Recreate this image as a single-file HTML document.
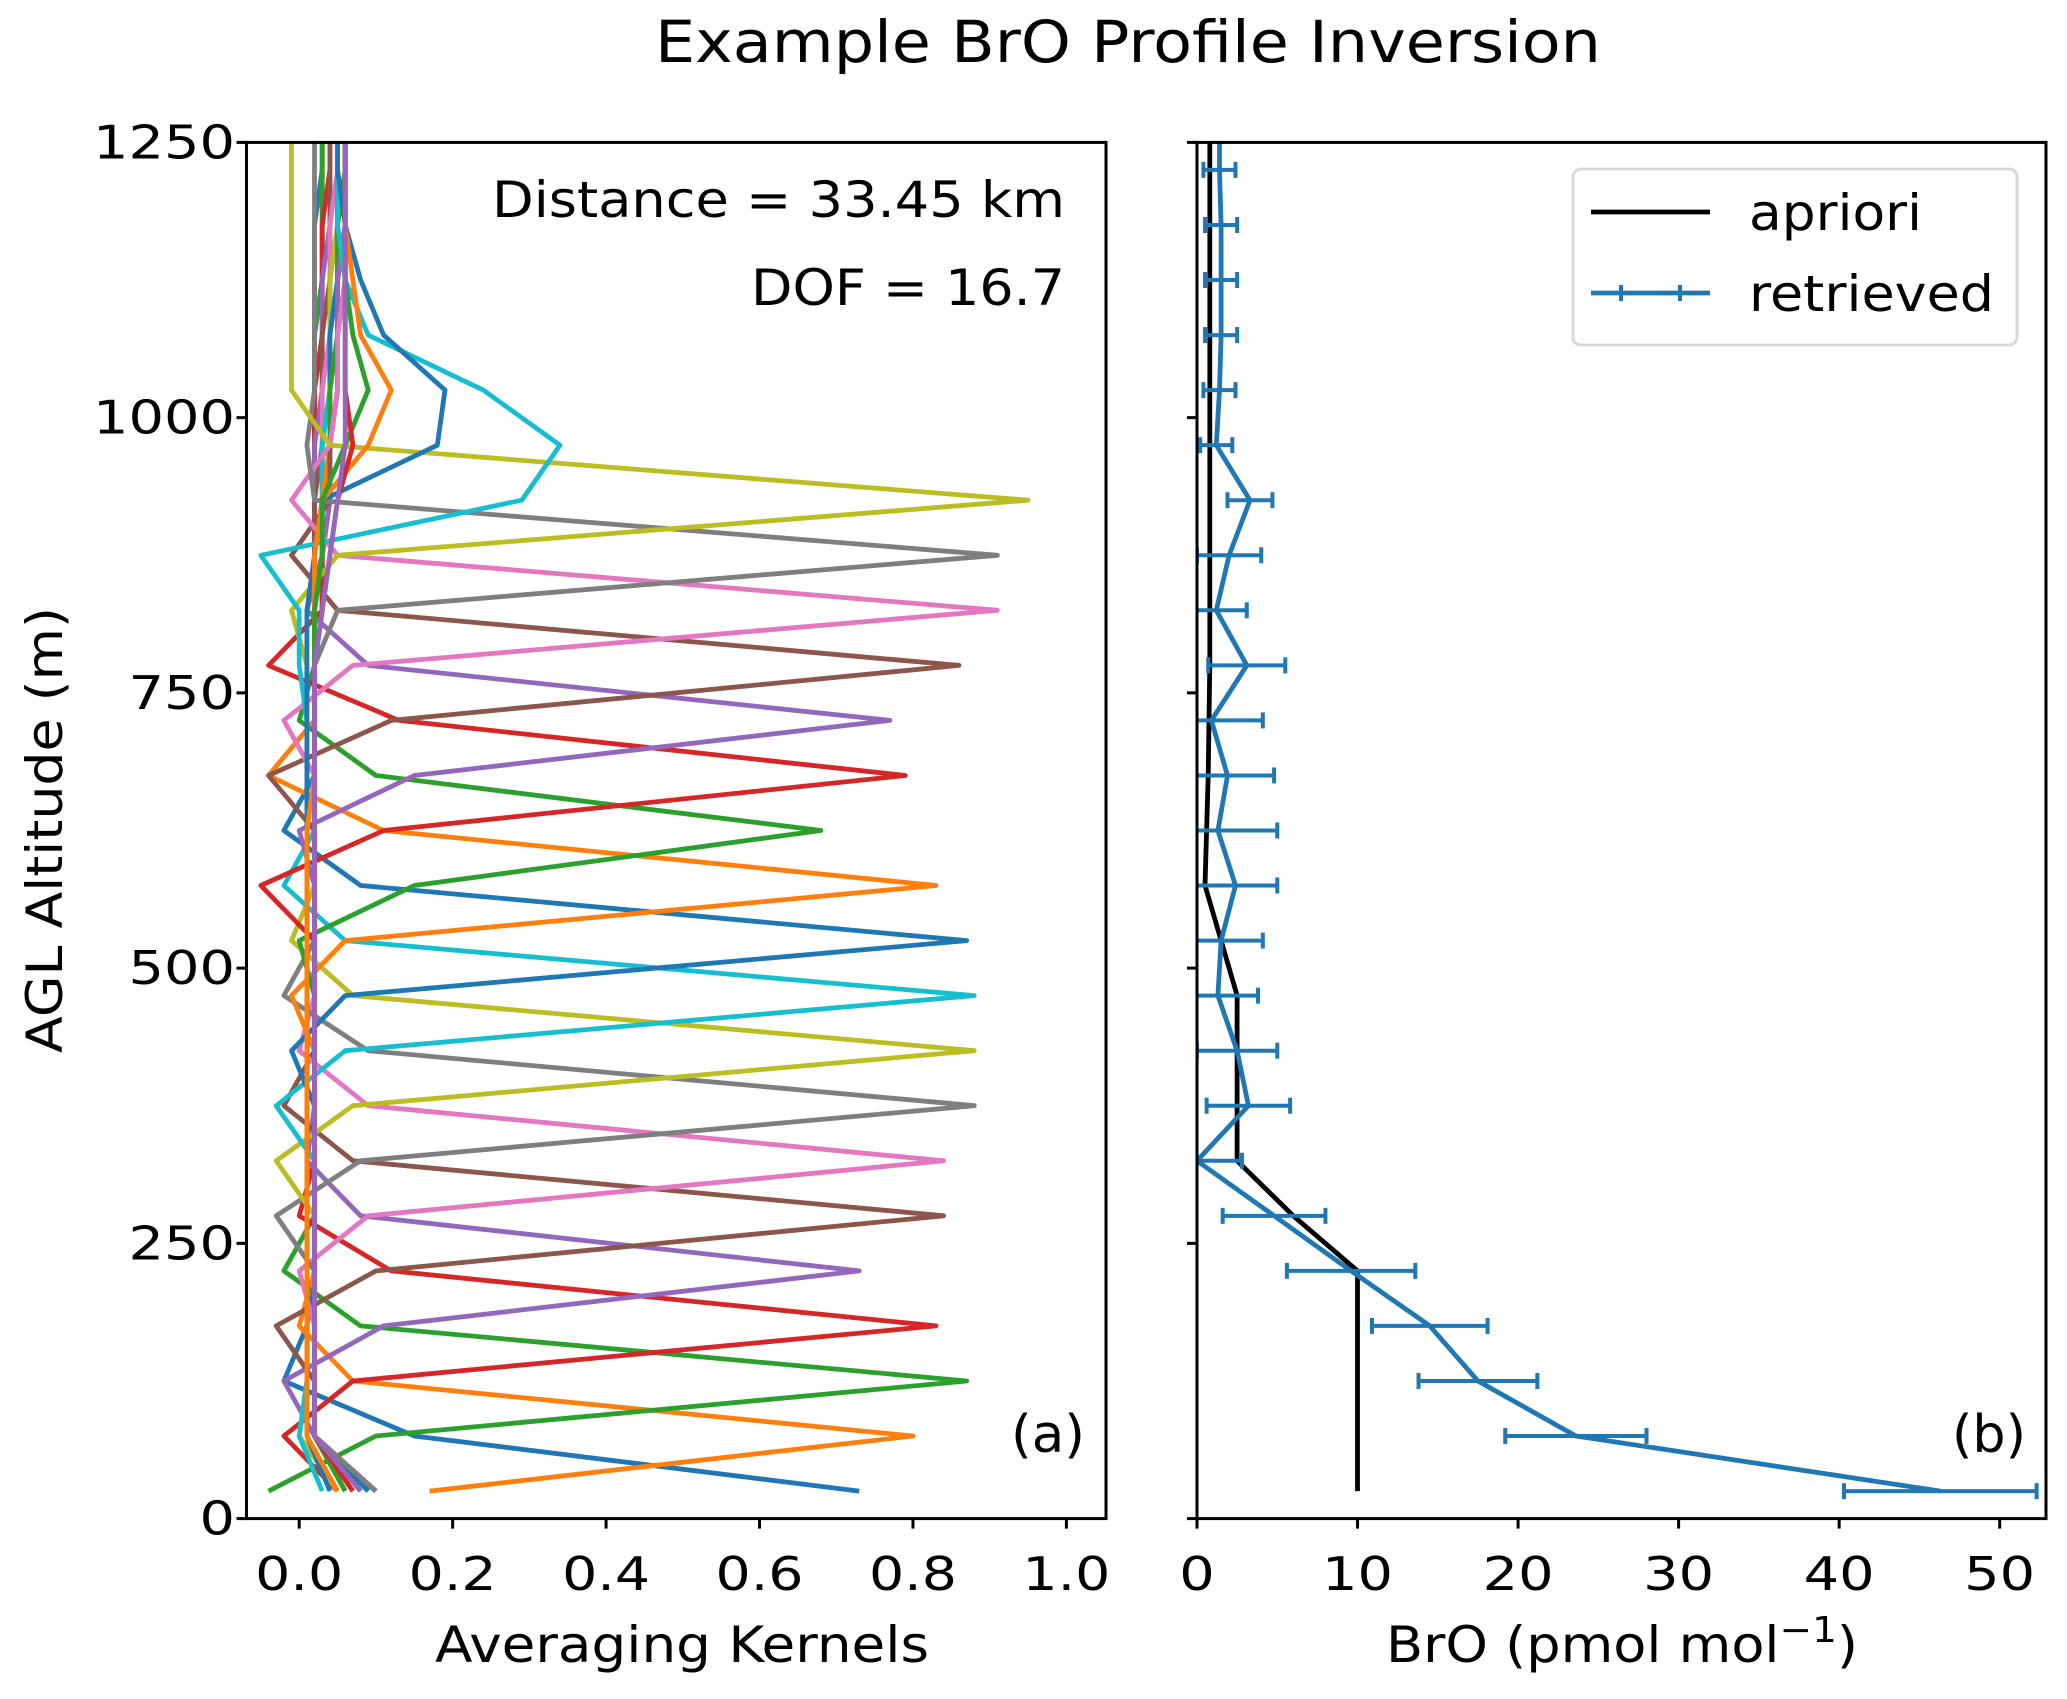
<!DOCTYPE html>
<html><head><meta charset="utf-8"><style>
html,body{margin:0;padding:0;background:#fff;}
svg{display:block;font-family:"DejaVu Sans","Liberation Sans",sans-serif;}
</style></head><body>
<svg id="chart" width="2067" height="1699" viewBox="0 0 2067 1699" xmlns="http://www.w3.org/2000/svg">
<rect width="2067" height="1699" fill="#fff"/>
<text x="1128" y="62" font-size="58" text-anchor="middle" textLength="946" lengthAdjust="spacingAndGlyphs">Example BrO Profile Inversion</text>
<g id="left"></g><g id="right"></g>
</svg>
<script>
const altitudes=[25,75,125,175,225,275,325,375,425,475,525,575,625,675,725,775,825,875,925,975,1025,1075,1125,1175,1225,1275];
const kernel0=[0.73,0.15,-0.02,0.01,0.02,0.02,0.02,0.02,0.02,0.02,0.02,0.02,0.02,0.02,0.02,0.02,0.02,0.02,0.02,0.02,0.02,0.02,0.02,0.02,0.03,0.03];
const kernel1=[0.17,0.80,0.07,0.00,0.02,0.02,0.02,0.02,0.02,0.02,0.02,0.02,0.02,0.02,0.02,0.02,0.02,0.02,0.02,0.02,0.02,0.02,0.03,0.03,0.03,0.03];
const kernel2=[-0.04,0.10,0.87,0.08,-0.02,0.02,0.02,0.02,0.02,0.02,0.02,0.02,0.02,0.02,0.02,0.02,0.02,0.02,0.02,0.02,0.02,0.02,0.03,0.03,0.03,0.03];
const kernel3=[0.05,-0.02,0.07,0.83,0.12,0.00,0.02,0.02,0.02,0.02,0.02,0.02,0.02,0.02,0.02,0.02,0.02,0.02,0.02,0.02,0.02,0.03,0.03,0.03,0.04,0.04];
const kernel4=[0.06,0.02,-0.02,0.11,0.73,0.08,0.01,0.02,0.02,0.02,0.02,0.02,0.02,0.02,0.02,0.02,0.02,0.02,0.02,0.02,0.03,0.03,0.03,0.04,0.04,0.04];
const kernel5=[0.07,0.02,0.02,-0.03,0.10,0.84,0.07,-0.02,0.02,0.02,0.02,0.02,0.02,0.02,0.02,0.02,0.02,0.02,0.02,0.03,0.03,0.03,0.04,0.04,0.04,0.04];
const kernel6=[0.08,0.02,0.02,0.02,0.00,0.09,0.84,0.09,0.00,0.02,0.02,0.02,0.02,0.02,0.02,0.02,0.02,0.02,0.03,0.03,0.03,0.04,0.04,0.04,0.05,0.05];
const kernel7=[0.08,0.02,0.02,0.02,0.02,-0.03,0.08,0.88,0.09,-0.02,0.02,0.02,0.02,0.02,0.02,0.02,0.02,0.03,0.03,0.03,0.04,0.04,0.04,0.05,0.05,0.05];
const kernel8=[0.09,0.02,0.02,0.02,0.02,0.02,-0.03,0.07,0.88,0.07,-0.01,0.02,0.02,0.02,0.02,0.02,0.02,0.03,0.03,0.03,0.04,0.04,0.04,0.05,0.05,0.05];
const kernel9=[0.09,0.02,0.02,0.02,0.02,0.02,0.02,-0.03,0.06,0.88,0.06,-0.02,0.02,0.02,0.02,0.02,0.02,0.03,0.03,0.03,0.04,0.04,0.05,0.05,0.05,0.05];
const kernel10=[0.09,0.02,0.02,0.02,0.02,0.02,0.02,0.02,-0.01,0.06,0.87,0.08,-0.02,0.02,0.02,0.02,0.03,0.03,0.03,0.04,0.04,0.04,0.05,0.05,0.05,0.05];
const kernel11=[0.10,0.02,0.02,0.02,0.02,0.02,0.02,0.02,0.02,-0.01,0.06,0.83,0.11,-0.04,0.02,0.02,0.03,0.03,0.03,0.04,0.04,0.05,0.05,0.05,0.06,0.06];
const kernel12=[0.10,0.02,0.02,0.02,0.02,0.02,0.02,0.02,0.02,0.02,0.00,0.15,0.68,0.10,0.00,0.02,0.03,0.03,0.04,0.04,0.04,0.05,0.05,0.05,0.06,0.06];
const kernel13=[0.10,0.02,0.02,0.02,0.02,0.02,0.02,0.02,0.02,0.02,0.02,-0.05,0.11,0.79,0.13,-0.04,0.03,0.03,0.04,0.04,0.05,0.05,0.05,0.06,0.06,0.06];
const kernel14=[0.10,0.02,0.02,0.02,0.02,0.02,0.02,0.02,0.02,0.02,0.02,0.02,0.00,0.15,0.77,0.09,0.01,0.03,0.04,0.04,0.05,0.05,0.05,0.06,0.06,0.06];
const kernel15=[0.10,0.02,0.02,0.02,0.02,0.02,0.02,0.02,0.02,0.02,0.02,0.02,0.02,-0.04,0.12,0.86,0.05,-0.01,0.04,0.04,0.05,0.05,0.06,0.06,0.06,0.06];
const kernel16=[0.10,0.02,0.02,0.02,0.02,0.02,0.02,0.02,0.02,0.02,0.02,0.02,0.02,0.02,-0.02,0.07,0.91,0.05,-0.01,0.04,0.05,0.05,0.06,0.06,0.06,0.06];
const kernel17=[0.10,0.02,0.02,0.02,0.02,0.02,0.02,0.02,0.02,0.02,0.02,0.02,0.02,0.02,0.02,0.02,0.05,0.91,0.02,0.01,0.02,0.02,0.02,0.02,0.02,0.02];
const kernel18=[0.05,0.00,0.01,0.01,0.01,0.01,0.01,0.01,0.01,0.01,0.01,0.01,0.01,0.01,0.01,0.01,-0.01,0.05,0.95,0.04,-0.01,-0.01,-0.01,-0.01,-0.01,-0.01];
const kernel19=[0.03,0.00,0.01,0.01,0.01,0.01,0.01,0.01,0.01,0.01,0.01,0.01,0.01,0.01,0.01,0.00,0.00,-0.05,0.29,0.34,0.24,0.09,0.06,0.05,0.05,0.05];
const kernel20=[0.04,0.01,0.01,0.01,0.01,0.01,0.01,0.01,0.01,0.01,0.01,0.01,0.01,0.01,0.01,0.01,0.01,0.02,0.03,0.18,0.19,0.11,0.08,0.06,0.05,0.05];
const kernel21=[0.05,0.01,0.01,0.01,0.01,0.01,0.01,0.01,0.01,0.01,0.01,0.01,0.01,0.02,0.02,0.02,0.02,0.02,0.03,0.09,0.12,0.08,0.07,0.06,0.06,0.06];
const kernel22=[0.06,0.02,0.02,0.02,0.02,0.02,0.02,0.02,0.02,0.02,0.02,0.02,0.02,0.02,0.02,0.02,0.02,0.03,0.03,0.06,0.09,0.07,0.06,0.06,0.06,0.06];
const kernel23=[0.07,0.02,0.02,0.02,0.02,0.02,0.02,0.02,0.02,0.02,0.02,0.02,0.02,0.02,0.02,0.02,0.03,0.04,0.05,0.07,0.06,0.06,0.06,0.06,0.06,0.06];
const kernel24=[0.08,0.02,0.02,0.02,0.02,0.02,0.02,0.02,0.02,0.02,0.02,0.02,0.02,0.02,0.02,0.02,0.03,0.04,0.05,0.06,0.06,0.06,0.06,0.06,0.06,0.06];
const kernels=[kernel0,kernel1,kernel2,kernel3,kernel4,kernel5,kernel6,kernel7,kernel8,kernel9,kernel10,kernel11,kernel12,kernel13,kernel14,kernel15,kernel16,kernel17,kernel18,kernel19,kernel20,kernel21,kernel22,kernel23,kernel24];
const profileAlt=[25,75,125,175,225,275,325,375,425,475,525,575,625,675,725,775,825,875,925,975,1025,1075,1125,1175,1225];
const apriori=[10,10,10,10,10,6,2.5,2.5,2.5,2.5,1.5,0.5,0.6,0.7,0.75,0.8,0.8,0.8,0.8,0.8,0.8,0.8,0.8,0.8,0.8];
const retrieved=[46.3,23.6,17.5,14.5,9.6,4.8,0.0,3.2,2.5,1.3,1.5,2.4,1.3,1.9,0.9,3.1,1.2,2.0,3.3,1.2,1.4,1.5,1.5,1.5,1.4];
const retrievedErr=[6.0,4.4,3.7,3.6,4.0,3.2,2.8,2.6,2.5,2.5,2.6,2.6,3.7,2.9,3.2,2.4,1.9,2.0,1.4,1.0,1.0,1.0,1.0,1.0,1.0];
const xTicksA=[0,0.2,0.4,0.6,0.8,1.0];
const xTickLabelsA=["0.0","0.2","0.4","0.6","0.8","1.0"];
const yTicks=[0,250,500,750,1000,1250];
const yTickLabels=["0","250","500","750","1000","1250"];
const xTicksB=[0,10,20,30,40,50];
const xTickLabelsB=["0","10","20","30","40","50"];

const NS="http://www.w3.org/2000/svg";
const colors=["#1f77b4","#ff7f0e","#2ca02c","#d62728","#9467bd","#8c564b","#e377c2","#7f7f7f","#bcbd22","#17becf"];
function mk(parent,tag,attrs){const e=document.createElementNS(NS,tag);for(const k in attrs)e.setAttribute(k,attrs[k]);parent.appendChild(e);return e;}
function labW(s){let w=0;for(const c of s){w+=(c==='.')?17:35.5;}return w;}
const yTop=142.4,yBot=1518.6;
function yS(a){return yBot-(a/1250)*(yBot-yTop);}
const AL=246.5,AR=1106;
function xA(v){return 299.2+v*(1066.4-299.2);}
const BL=1197,BR=2046;
function xB(v){return 1197+v*(1999.7-1197)/50;}
const LW=4.8,SW=3;

const L=document.getElementById('left');


const defs=mk(document.getElementById('chart'),'defs',{});
const cpA=mk(defs,'clipPath',{id:'clipA'});mk(cpA,'rect',{x:AL,y:yTop,width:AR-AL,height:yBot-yTop});
const cpB=mk(defs,'clipPath',{id:'clipB'});mk(cpB,'rect',{x:BL,y:yTop,width:BR-BL,height:yBot-yTop});
const gA=mk(L,'g',{'clip-path':'url(#clipA)'});
kernels.forEach((k,i)=>{
  const pts=k.map((v,j)=>xA(v).toFixed(1)+','+yS(altitudes[j]).toFixed(1)).join(' ');
  const p=mk(gA,'polyline',{points:pts,fill:'none',stroke:colors[i%10],'stroke-width':LW,'stroke-linejoin':'round'});
  
  
});
function axesFrame(g,x0,x1,name){
  const r=mk(g,'rect',{x:x0,y:yTop,width:x1-x0,height:yBot-yTop,fill:'none',stroke:'#000','stroke-width':SW});
  
  
}
axesFrame(L,AL,AR,'kernel-axes-frame');
xTicksA.forEach((t,i)=>{
  mk(L,'line',{x1:xA(t),x2:xA(t),y1:yBot,y2:yBot+10,stroke:'#000','stroke-width':SW});
  const tx=mk(L,'text',{x:xA(t),y:1590,'font-size':46,'text-anchor':'middle',textLength:labW(xTickLabelsA[i]),lengthAdjust:'spacingAndGlyphs'});tx.textContent=xTickLabelsA[i];
  
  
});
yTicks.forEach((t,i)=>{
  mk(L,'line',{x1:AL-10,x2:AL,y1:yS(t),y2:yS(t),stroke:'#000','stroke-width':SW});
  const tx=mk(L,'text',{x:235,y:yS(t)+16,'font-size':46,'text-anchor':'end',textLength:labW(yTickLabels[i]),lengthAdjust:'spacingAndGlyphs'});tx.textContent=yTickLabels[i];
  
  
});
let t;
t=mk(L,'text',{x:682,y:1662,'font-size':50,'text-anchor':'middle',textLength:494,lengthAdjust:'spacingAndGlyphs'});t.textContent='Averaging Kernels';


t=mk(L,'text',{x:0,y:0,'font-size':50,'text-anchor':'middle',textLength:446,lengthAdjust:'spacingAndGlyphs',transform:'translate(62,830) rotate(-90)'});t.textContent='AGL Altitude (m)';


t=mk(L,'text',{x:1065,y:217,'font-size':50,'text-anchor':'end',textLength:573,lengthAdjust:'spacingAndGlyphs'});t.textContent='Distance = 33.45 km';


t=mk(L,'text',{x:1065,y:305,'font-size':50,'text-anchor':'end',textLength:314,lengthAdjust:'spacingAndGlyphs'});t.textContent='DOF = 16.7';


t=mk(L,'text',{x:1085,y:1452,'font-size':52,'text-anchor':'end',textLength:74,lengthAdjust:'spacingAndGlyphs'});t.textContent='(a)';



const R=document.getElementById('right');


const gB=mk(R,'g',{'clip-path':'url(#clipB)'});
const ap=mk(gB,'polyline',{points:apriori.map((v,j)=>xB(v).toFixed(1)+','+yS(profileAlt[j]).toFixed(1)).join(' ')+' '+xB(apriori[apriori.length-1]).toFixed(1)+','+yS(1300),fill:'none',stroke:'#000','stroke-width':LW});


const rt=mk(gB,'polyline',{points:retrieved.map((v,j)=>xB(v).toFixed(1)+','+yS(profileAlt[j]).toFixed(1)).join(' ')+' '+xB(retrieved[retrieved.length-1]).toFixed(1)+','+yS(1300),fill:'none',stroke:'#1f77b4','stroke-width':LW,'stroke-linejoin':'round'});


retrieved.forEach((v,j)=>{
  const y=yS(profileAlt[j]),a=xB(v-retrievedErr[j]),b=xB(v+retrievedErr[j]);
  const g=mk(gB,'g',{stroke:'#1f77b4','stroke-width':4});
  
  
  mk(g,'line',{x1:a,x2:b,y1:y,y2:y});
  mk(g,'line',{x1:a,x2:a,y1:y-8,y2:y+8});
  mk(g,'line',{x1:b,x2:b,y1:y-8,y2:y+8});
});
axesFrame(R,BL,BR,'profile-axes-frame');
xTicksB.forEach((tk,i)=>{
  mk(R,'line',{x1:xB(tk),x2:xB(tk),y1:yBot,y2:yBot+10,stroke:'#000','stroke-width':SW});
  const tx=mk(R,'text',{x:xB(tk),y:1590,'font-size':46,'text-anchor':'middle',textLength:labW(xTickLabelsB[i]),lengthAdjust:'spacingAndGlyphs'});tx.textContent=xTickLabelsB[i];
  
  
});
yTicks.forEach(tk=>{mk(R,'line',{x1:BL-10,x2:BL,y1:yS(tk),y2:yS(tk),stroke:'#000','stroke-width':SW});});
t=mk(R,'text',{x:1622,y:1662,'font-size':50,'text-anchor':'middle',textLength:472,lengthAdjust:'spacingAndGlyphs'});t.innerHTML='BrO (pmol mol<tspan dy="-20" font-size="36">−1</tspan><tspan dy="20">)</tspan>';


t=mk(R,'text',{x:2026,y:1452,'font-size':52,'text-anchor':'end',textLength:74,lengthAdjust:'spacingAndGlyphs'});t.textContent='(b)';


const lg=mk(R,'g',{});


mk(lg,'rect',{x:1573,y:169,width:444,height:176,rx:8,fill:'#fff',stroke:'#d9d9d9','stroke-width':3});
mk(lg,'line',{x1:1591,x2:1710,y1:212,y2:212,stroke:'#000','stroke-width':LW});
mk(lg,'line',{x1:1591,x2:1710,y1:293,y2:293,stroke:'#1f77b4','stroke-width':LW});
mk(lg,'line',{x1:1621,x2:1621,y1:285,y2:301,stroke:'#1f77b4','stroke-width':4});
mk(lg,'line',{x1:1680,x2:1680,y1:285,y2:301,stroke:'#1f77b4','stroke-width':4});
t=mk(lg,'text',{x:1749,y:230,'font-size':50,textLength:173,lengthAdjust:'spacingAndGlyphs'});t.textContent='apriori';


t=mk(lg,'text',{x:1749,y:311,'font-size':50,textLength:245,lengthAdjust:'spacingAndGlyphs'});t.textContent='retrieved';


</script>
</body></html>
